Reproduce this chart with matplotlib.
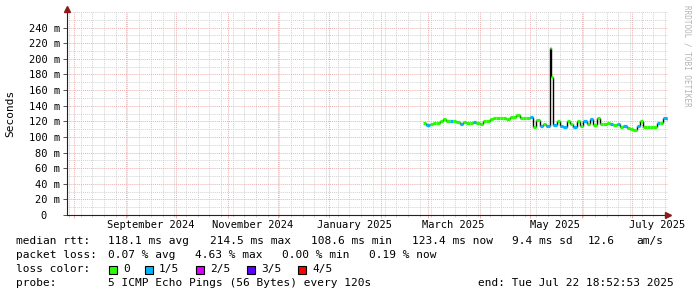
import datetime as dt
import matplotlib
matplotlib.use("Agg")
import matplotlib.pyplot as plt
import matplotlib.dates as mdates
from matplotlib.patches import Rectangle
from matplotlib.transforms import blended_transform_factory

# median rtt (ms) per interval and loss level (pings lost out of 5)
med_dates = ["2025-02-26", "2025-02-28", "2025-03-02", "2025-03-04", "2025-03-06",
             "2025-03-08", "2025-03-10", "2025-03-12", "2025-03-14", "2025-03-16",
             "2025-03-18", "2025-03-20", "2025-03-22", "2025-03-24", "2025-03-26",
             "2025-03-28", "2025-03-30", "2025-04-01", "2025-04-03", "2025-04-05",
             "2025-04-07", "2025-04-09", "2025-04-11", "2025-04-13", "2025-04-15",
             "2025-04-17", "2025-04-19", "2025-04-21", "2025-04-23", "2025-04-25",
             "2025-04-27", "2025-04-29", "2025-05-01", "2025-05-03", "2025-05-05",
             "2025-05-07", "2025-05-09", "2025-05-11", "2025-05-13", "2025-05-14",
             "2025-05-15", "2025-05-17", "2025-05-19", "2025-05-21", "2025-05-23",
             "2025-05-25", "2025-05-27", "2025-05-29", "2025-05-31", "2025-06-02",
             "2025-06-04", "2025-06-06", "2025-06-08", "2025-06-10", "2025-06-12",
             "2025-06-14", "2025-06-16", "2025-06-18", "2025-06-20", "2025-06-22",
             "2025-06-24", "2025-06-26", "2025-06-28", "2025-06-30", "2025-07-02",
             "2025-07-04", "2025-07-06", "2025-07-08", "2025-07-10", "2025-07-12",
             "2025-07-14", "2025-07-16", "2025-07-18", "2025-07-20", "2025-07-22"]
med_rtt = [118, 115, 117, 118, 118,
           120, 123, 121, 120, 121,
           119, 116, 119, 118, 118,
           119, 118, 117, 121, 121,
           123, 124, 124, 124, 124,
           123, 125, 126, 128, 124,
           124, 124, 126, 113, 122,
           114, 117, 114, 214.5, 177,
           115, 120, 114, 113, 121,
           116, 113, 121, 114, 121,
           116, 123, 115, 124, 117,
           117, 118, 116, 115, 116,
           113, 114, 112, 110, 109,
           114, 120, 113, 113, 113,
           113, 118, 118, 124, 123.4]
med_loss = [0, 1, 0, 0, 0,
            0, 0, 0, 1, 0,
            0, 1, 0, 0, 0,
            1, 0, 0, 0, 0,
            0, 0, 0, 0, 0,
            0, 0, 0, 0, 0,
            0, 0, 1, 0, 0,
            1, 0, 1, 0, 0,
            1, 0, 1, 1, 0,
            0, 1, 0, 0, 1,
            0, 1, 0, 0, 0,
            0, 0, 1, 0, 1,
            0, 1, 0, 0, 0,
            1, 0, 0, 0, 0,
            0, 1, 0, 1, 0]

loss_labels = ["0", "1/5", "2/5", "3/5", "4/5"]
loss_colors = ["#26ff00", "#00b4ff", "#d800ff", "#5a00ff", "#ff0000"]

end_time = dt.datetime(2025, 7, 22, 18, 52, 53)
start_time = end_time - dt.timedelta(days=360)

MGRID = "#eab0b0"
GRID = "#d2d2d2"
MONO = "DejaVu Sans Mono"

W, H = 697, 297
fig = plt.figure(figsize=(W / 100, H / 100), dpi=100)
ax = fig.add_axes([67 / W, (H - 215) / H, 601 / W, 203 / H])

x = [dt.datetime.strptime(d, "%Y-%m-%d") for d in med_dates]
x_next = x[1:] + [end_time]
cols = [loss_colors[l] for l in med_loss]

# vertical connections, then coloured steps on top
ax.vlines(x[1:], med_rtt[:-1], med_rtt[1:], color="black", lw=1.0, zorder=3)
ax.hlines(med_rtt, x, x_next, colors=cols, lw=2.3, zorder=4)

ax.set_xlim(start_time, end_time)
ax.set_ylim(0, 260)

# grid
ax.xaxis.set_major_locator(mdates.MonthLocator())
ax.xaxis.set_minor_locator(mdates.WeekdayLocator(byweekday=mdates.MO))
ax.yaxis.set_major_locator(plt.MultipleLocator(20))
ax.yaxis.set_minor_locator(plt.MultipleLocator(10))
ax.grid(which="minor", color=GRID, lw=0.7, ls=(0, (1, 1)), zorder=0)
ax.grid(which="major", color=MGRID, lw=0.7, ls=(0, (1, 1)), zorder=1)
ax.set_axisbelow(True)

ax.xaxis.set_major_formatter(plt.NullFormatter())
ax.tick_params(axis="x", which="major", length=2.5, width=0.7, color=MGRID)
ax.tick_params(axis="x", which="minor", length=1.5, width=0.7, color=GRID)
ax.tick_params(axis="y", which="minor", length=0)
ax.tick_params(axis="y", which="major", length=3, width=0.7, color="#555555",
               pad=2, labelsize=7.5, labelfontfamily=MONO)
yt = list(range(0, 241, 20))
ax.set_yticks(yt)
ax.set_yticklabels([f"{v} m" if v else "0  " for v in yt])

for s in ["top", "right"]:
    ax.spines[s].set_visible(False)
for s in ["left", "bottom"]:
    ax.spines[s].set_color("#222222")
    ax.spines[s].set_linewidth(0.8)
ax.plot([1.0], [0], marker=">", ms=4, color="#8b1a1a", transform=ax.transAxes,
        clip_on=False, zorder=6)
ax.plot([0], [1.015], marker="^", ms=4, color="#8b1a1a", transform=ax.transAxes,
        clip_on=False, zorder=6)

# month labels centred in the month
trans = blended_transform_factory(ax.transData, ax.transAxes)
for m, yr in [(9, 2024), (11, 2024), (1, 2025), (3, 2025), (5, 2025), (7, 2025)]:
    ax.text(dt.datetime(yr, m, 16), -0.05, dt.date(yr, m, 1).strftime("%B %Y"),
            transform=trans, ha="center", va="center", fontsize=7.5, family=MONO)

fig.text(10 / W, 1 - 113 / H, "Seconds", rotation=90, ha="center", va="center",
         fontsize=8, family=MONO)
fig.text(687 / W, 1 - 5 / H, "RRDTOOL / TOBI OETIKER", rotation=270, ha="center",
         va="top", fontsize=5.5, family=MONO, color="#b4b4b4")

def txt(px, py, s):
    fig.text(px / W, 1 - py / H, s, ha="left", va="center", fontsize=8, family=MONO)

txt(16, 241, "median rtt:")
for px, s in [(108, "118.1 ms avg"), (210, "214.5 ms max"), (311, "108.6 ms min"),
              (412, "123.4 ms now"), (512, "9.4 ms sd"), (588, "12.6"), (636, "am/s")]:
    txt(px, 241, s)
txt(16, 255, "packet loss:")
for px, s in [(108, "0.07 % avg"), (195, "4.63 % max"), (282, "0.00 % min"),
              (369, "0.19 % now")]:
    txt(px, 255, s)
txt(16, 269, "loss color:")
box_x = [109, 145, 196, 247, 298]
for bx, lab, c in zip(box_x, loss_labels, loss_colors):
    fig.add_artist(Rectangle((bx / W, 1 - 273.5 / H), 8 / W, 8 / H, facecolor=c,
                             edgecolor="black", lw=0.8, transform=fig.transFigure))
    txt(bx + 14, 269, lab)
txt(16, 283, "probe:")
txt(108, 283, "5 ICMP Echo Pings (56 Bytes) every 120s")
txt(478, 283, "end: Tue Jul 22 18:52:53 2025")

fig.savefig("out.png", dpi=100, facecolor="white")
